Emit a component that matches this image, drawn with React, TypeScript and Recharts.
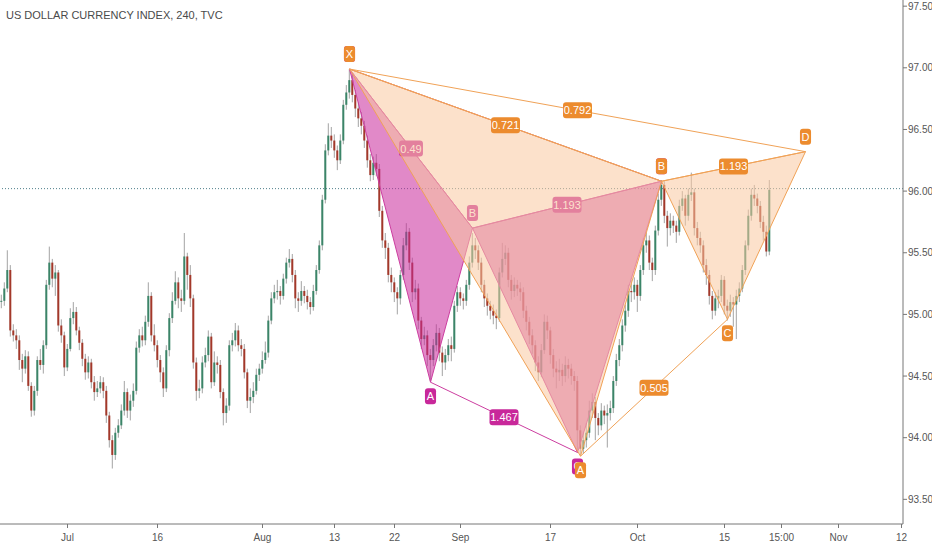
import { ComposedChart, Bar, Scatter, XAxis, YAxis, ReferenceLine } from "recharts";

const FONT = "'Liberation Sans Narrow', 'Liberation Sans', Arial, sans-serif";

// 240-minute candles, one slot per candle; open = previous close
const closes = [
  95.11, 95.21, 95.36, 94.87, 94.83, 94.79, 94.63, 94.56, 94.66, 94.42,
  94.22, 94.38, 94.63, 94.59, 94.75, 95.24, 95.42, 95.29, 95.34, 94.91,
  94.83, 94.57, 94.72, 94.97, 95.02, 94.87, 94.77, 94.64, 94.53, 94.61,
  94.45, 94.37, 94.40, 94.45, 94.38, 94.18, 93.98, 93.86, 94.04, 94.10,
  94.22, 94.37, 94.22, 94.30, 94.38, 94.73, 94.83, 94.79, 94.94, 95.15,
  94.83, 94.75, 94.63, 94.53, 94.40, 94.71, 94.97, 95.11, 95.26, 95.13,
  95.11, 95.47, 95.32, 95.13, 94.61, 94.38, 94.40, 94.61, 94.67, 94.82,
  94.45, 94.61, 94.59, 94.37, 94.20, 94.26, 94.75, 94.79, 94.87, 94.75,
  94.72, 94.53, 94.30, 94.33, 94.38, 94.51, 94.56, 94.63, 94.69, 94.95,
  95.13, 95.18, 95.19, 95.15, 95.29, 95.42, 95.45, 95.32, 95.13, 95.11,
  95.19, 95.15, 95.10, 95.06, 95.19, 95.36, 95.56, 95.93, 96.33, 96.45,
  96.41, 96.33, 96.25, 96.41, 96.70, 96.80, 96.90, 96.78, 96.67, 96.59,
  96.53, 96.41, 96.25, 96.13, 96.23, 96.18, 95.84, 95.60, 95.54, 95.32,
  95.26, 95.18, 95.13, 95.32, 95.56, 95.67, 95.42, 95.18, 95.21, 94.95,
  94.80, 94.83, 94.67, 94.63, 94.75, 94.85, 94.69, 94.61, 94.67, 94.75,
  94.72, 95.07, 95.18, 95.13, 95.11, 95.24, 95.42, 95.56, 95.52, 95.42,
  95.24, 95.13, 95.07, 95.03, 94.99, 94.97, 95.34, 95.45, 95.50, 95.28,
  95.19, 95.24, 95.21, 95.18, 95.03, 94.94, 94.83, 94.75, 94.61, 94.53,
  94.71, 94.94, 94.87, 94.67, 94.56, 94.53, 94.55, 94.50, 94.59, 94.56,
  94.50, 94.46, 94.06, 93.91, 93.98, 94.04, 94.22, 94.29, 94.16, 94.10,
  94.22, 94.18, 94.20, 94.24, 94.46, 94.63, 94.75, 94.91, 95.03, 95.19,
  95.18, 95.24, 95.15, 95.36, 95.56, 95.60, 95.42, 95.36, 95.68, 95.93,
  96.05, 95.80, 95.70, 95.76, 95.72, 95.67, 95.88, 95.94, 95.80, 95.97,
  95.99, 95.70, 95.62, 95.56, 95.40, 95.32, 95.15, 95.03, 95.13, 95.15,
  95.28, 95.07, 95.03, 95.10, 95.08, 95.15, 95.21, 95.36, 95.56, 95.80,
  95.97, 95.94, 95.88, 95.75, 95.67, 95.51, 96.01,
];

const highs = [
  95.16, 95.26, 95.52, 95.40, 94.92, 94.88, 94.83, 94.68, 94.71, 94.70,
  94.45, 94.42, 94.66, 94.72, 94.79, 95.28, 95.55, 95.45, 95.40, 95.36,
  94.96, 94.86, 94.76, 95.05, 95.10, 95.06, 94.90, 94.80, 94.68, 94.66,
  94.64, 94.50, 94.46, 94.50, 94.49, 94.42, 94.21, 94.02, 94.08, 94.15,
  94.27, 94.46, 94.40, 94.35, 94.44, 94.78, 94.88, 94.90, 94.99, 95.26,
  95.18, 94.92, 94.79, 94.67, 94.57, 94.75, 95.01, 95.18, 95.35, 95.30,
  95.20, 95.66, 95.50, 95.40, 95.16, 94.65, 94.47, 94.66, 94.73, 94.87,
  94.85, 94.70, 94.66, 94.63, 94.40, 94.32, 94.79, 94.85, 94.93, 94.91,
  94.80, 94.76, 94.56, 94.40, 94.45, 94.56, 94.60, 94.70, 94.78, 94.99,
  95.18, 95.24, 95.28, 95.23, 95.33, 95.46, 95.53, 95.49, 95.36, 95.18,
  95.27, 95.23, 95.20, 95.14, 95.24, 95.40, 95.60, 95.97, 96.38, 96.55,
  96.52, 96.46, 96.37, 96.46, 96.74, 96.86, 96.99, 96.95, 96.82, 96.72,
  96.64, 96.57, 96.45, 96.30, 96.28, 96.30, 96.22, 95.88, 95.66, 95.58,
  95.38, 95.30, 95.22, 95.36, 95.62, 95.74, 95.70, 95.46, 95.28, 95.25,
  94.98, 94.90, 94.87, 94.72, 94.80, 94.92, 94.89, 94.74, 94.72, 94.80,
  94.82, 95.11, 95.23, 95.22, 95.17, 95.28, 95.47, 95.66, 95.62, 95.56,
  95.46, 95.28, 95.17, 95.11, 95.08, 95.04, 95.38, 95.58, 95.56, 95.54,
  95.32, 95.30, 95.28, 95.26, 95.22, 95.07, 94.98, 94.88, 94.79, 94.66,
  94.76, 95.00, 94.99, 94.90, 94.72, 94.62, 94.64, 94.60, 94.66, 94.64,
  94.60, 94.54, 94.50, 94.10, 94.05, 94.12, 94.30, 94.36, 94.33, 94.20,
  94.28, 94.26, 94.27, 94.30, 94.50, 94.68, 94.80, 94.96, 95.08, 95.24,
  95.28, 95.30, 95.28, 95.40, 95.62, 95.66, 95.64, 95.46, 95.72, 95.98,
  96.09, 96.08, 95.84, 95.82, 95.80, 95.76, 95.93, 96.00, 95.97, 96.02,
  96.15, 96.02, 95.75, 95.67, 95.60, 95.45, 95.36, 95.19, 95.18, 95.20,
  95.32, 95.31, 95.12, 95.16, 95.14, 95.20, 95.26, 95.40, 95.60, 95.85,
  96.02, 96.05, 95.98, 95.92, 95.80, 95.72, 96.09,
];

const lows = [
  95.05, 95.07, 95.18, 94.82, 94.78, 94.72, 94.55, 94.45, 94.52, 94.38,
  94.17, 94.18, 94.34, 94.55, 94.52, 94.72, 95.20, 95.22, 95.15, 94.86,
  94.77, 94.50, 94.54, 94.70, 94.92, 94.83, 94.71, 94.58, 94.47, 94.48,
  94.40, 94.30, 94.33, 94.36, 94.32, 94.12, 93.92, 93.75, 93.82, 94.00,
  94.07, 94.18, 94.16, 94.14, 94.25, 94.35, 94.69, 94.74, 94.75, 94.90,
  94.78, 94.70, 94.57, 94.45, 94.33, 94.37, 94.66, 94.93, 95.08, 95.05,
  95.02, 95.08, 95.20, 95.06, 94.56, 94.30, 94.32, 94.36, 94.57, 94.62,
  94.40, 94.42, 94.52, 94.32, 94.10, 94.12, 94.22, 94.70, 94.74, 94.70,
  94.66, 94.48, 94.24, 94.20, 94.28, 94.35, 94.46, 94.52, 94.60, 94.65,
  94.92, 95.09, 95.12, 95.08, 95.12, 95.25, 95.38, 95.26, 95.05, 95.02,
  95.07, 95.09, 95.04, 95.00, 95.03, 95.16, 95.33, 95.52, 95.90, 96.29,
  96.35, 96.27, 96.17, 96.22, 96.38, 96.66, 96.75, 96.72, 96.60, 96.52,
  96.46, 96.35, 96.19, 96.08, 96.09, 96.12, 95.79, 95.54, 95.45, 95.26,
  95.18, 95.10, 95.00, 95.08, 95.28, 95.52, 95.36, 95.10, 95.12, 94.88,
  94.72, 94.75, 94.58, 94.46, 94.58, 94.70, 94.62, 94.50, 94.55, 94.62,
  94.62, 94.69, 95.02, 95.07, 95.04, 95.07, 95.20, 95.38, 95.45, 95.36,
  95.18, 95.06, 94.99, 94.96, 94.92, 94.88, 94.94, 95.30, 95.40, 95.22,
  95.12, 95.14, 95.15, 95.11, 94.97, 94.87, 94.76, 94.68, 94.54, 94.46,
  94.49, 94.68, 94.80, 94.60, 94.49, 94.40, 94.46, 94.42, 94.45, 94.48,
  94.43, 94.38, 93.90, 93.86, 93.87, 93.92, 94.00, 94.16, 93.98, 94.02,
  94.06, 94.11, 93.92, 94.14, 94.20, 94.42, 94.58, 94.70, 94.86, 94.98,
  95.10, 95.12, 95.02, 95.11, 95.32, 95.50, 95.36, 95.27, 95.32, 95.64,
  95.88, 95.74, 95.55, 95.64, 95.66, 95.58, 95.64, 95.84, 95.72, 95.76,
  95.92, 95.64, 95.56, 95.50, 95.34, 95.24, 95.08, 94.96, 94.99, 95.05,
  95.10, 95.00, 94.95, 94.98, 94.90, 94.80, 95.10, 95.18, 95.32, 95.52,
  95.76, 95.88, 95.82, 95.70, 95.60, 95.47, 95.48,
];

// empty slots continue the time axis to the right edge
const TOTAL_SLOTS = 301;

const tickSlots = [22, 52, 87, 111, 131, 153, 183, 212, 241, 260, 279, 300];
const tickLabels = ["Jul", "16", "Aug", "13", "22", "Sep", "17", "Oct", "15", "15:00", "Nov", "12"];
const priceTicks = [93.5, 94, 94.5, 95, 95.5, 96, 96.5, 97, 97.5];
const lastPrice = 96.02;

// harmonic patterns: points X, A, B, C, D
const pointNames = ["X", "A", "B", "C", "D"];
const p1Slots = [116, 143, 157, 192, 220];
const p1Prices = [96.99, 94.45, 95.7, 93.88, 96.08];
const p1Ratios = ["0.49", "1.467", "1.193", ""]; // XB, AC, BD, XD
const p2Slots = [116, 193, 220, 242, 268];
const p2Prices = [96.99, 93.85, 96.08, 94.96, 96.32];
const p2Ratios = ["0.721", "0.505", "1.193", "0.792"];

const p1Style = { fill: "#c8289a", fillOpacity: 0.55, line: "#cc3ea0", label: "#c8289a" };
const p2Style = { fill: "#fac8a0", fillOpacity: 0.55, line: "#f0a257", label: "#ec8b2e" };

const rows = Array.from({ length: TOTAL_SLOTS }, (_, slot) => {
  const has = slot < closes.length;
  const i1 = p1Slots.indexOf(slot);
  const i2 = p2Slots.indexOf(slot);
  return {
    slot,
    open: has ? closes[slot > 0 ? slot - 1 : 0] : null,
    close: has ? closes[slot] : null,
    high: has ? highs[slot] : null,
    low: has ? lows[slot] : null,
    range: has ? [lows[slot], highs[slot]] : null,
    p1: i1 >= 0 ? p1Prices[i1] : null,
    p2: i2 >= 0 ? p2Prices[i2] : null,
  };
});

function Candle(props: any) {
  const { x, y, width, height, payload } = props;
  if (!payload || payload.high == null || !Number.isFinite(y)) return <g />;
  const { open, close, high, low } = payload;
  const span = high - low || 1;
  const py = (v: number) => y + ((high - v) / span) * height;
  const cx = x + width / 2;
  const up = close >= open;
  const top = py(Math.max(open, close));
  const bot = py(Math.min(open, close));
  return (
    <g>
      <line x1={cx} x2={cx} y1={y} y2={y + height} stroke="#a3a3a3" strokeWidth={1} />
      <rect x={cx - 1} y={top} width={2} height={Math.max(1, bot - top)} fill={up ? "#3b8568" : "#a3382a"} />
    </g>
  );
}

const textWidth = (s: string) => {
  let w = 0;
  for (const ch of s) w += ch === "." ? 2.6 : 5.1;
  return w;
};

function Badge({ cx, cy, text, fill }: { cx: number; cy: number; text: string; fill: string }) {
  const w = textWidth(text) + 6;
  return (
    <g>
      <rect x={cx - w / 2} y={cy - 8} width={w} height={16} rx={3} fill={fill} />
      <text x={cx} y={cy + 4} textAnchor="middle" fill="#fff" fontSize={11} fontFamily={FONT}>
        {text}
      </text>
    </g>
  );
}

function PatternShape({ points, style, ratios }: any) {
  const pts = (points || []).filter(
    (p: any) => p && Number.isFinite(p.x) && Number.isFinite(p.y) && p.y >= 0 && p.y <= 530
  );
  if (pts.length < 5) return <g />;
  const [X, A, B, C, D] = pts;
  const poly = (ps: any[]) => ps.map((p) => `${p.x},${p.y}`).join(" ");
  const segs = [[X, B], [A, C], [B, D], [X, D]];
  const above = [true, false, true, false, true];
  return (
    <g>
      <polygon points={poly([X, A, B])} fill={style.fill} fillOpacity={style.fillOpacity} stroke={style.line} strokeWidth={1} />
      <polygon points={poly([B, C, D])} fill={style.fill} fillOpacity={style.fillOpacity} stroke={style.line} strokeWidth={1} />
      {segs.map(([p, q], k) => (
        <line key={`l${k}`} x1={p.x} y1={p.y} x2={q.x} y2={q.y} stroke={style.line} strokeWidth={1} />
      ))}
      {segs.map(([p, q], k) =>
        ratios[k] ? (
          <Badge key={`r${k}`} cx={(p.x + q.x) / 2} cy={(p.y + q.y) / 2} text={ratios[k]} fill={style.label} />
        ) : null
      )}
      {pts.map((p: any, k: number) => (
        <Badge key={`v${k}`} cx={p.x} cy={p.y + (above[k] ? -15 : 14)} text={pointNames[k]} fill={style.label} />
      ))}
    </g>
  );
}

const noDot = () => <g />;

export default function App() {
  return (
    <div style={{ position: "absolute", left: 0, top: 0, width: 932, height: 550, background: "#fff" }}>
      <ComposedChart width={932} height={550} data={rows} margin={{ top: 0, right: 0, bottom: 0, left: 0 }}>
        <XAxis
          dataKey="slot"
          type="category"
          ticks={tickSlots}
          interval={0}
          tickFormatter={(v: number) => tickLabels[tickSlots.indexOf(v)] ?? ""}
          height={26}
          tickSize={4}
          tickMargin={6}
          axisLine={{ stroke: "#777" }}
          tickLine={{ stroke: "#777" }}
          tick={{ fill: "#555", fontSize: 10, fontFamily: FONT }}
        />
        <YAxis
          orientation="right"
          type="number"
          domain={[93.3, 97.55]}
          allowDataOverflow
          ticks={priceTicks}
          interval={0}
          width={29}
          tickSize={4}
          tickMargin={1}
          tickFormatter={(v: number) => v.toFixed(2)}
          axisLine={{ stroke: "#777" }}
          tickLine={{ stroke: "#777" }}
          tick={{ fill: "#555", fontSize: 10, fontFamily: FONT }}
        />
        <Bar dataKey="range" shape={Candle} isAnimationActive={false} barCategoryGap="10%" />
        <ReferenceLine y={lastPrice} stroke="#4f7f8b" strokeDasharray="1 2" />
        <Scatter
          dataKey="p1"
          isAnimationActive={false}
          shape={noDot}
          legendType="none"
          line={(lp: any) => <PatternShape points={lp.points} style={p1Style} ratios={p1Ratios} />}
        />
        <Scatter
          dataKey="p2"
          isAnimationActive={false}
          shape={noDot}
          legendType="none"
          line={(lp: any) => <PatternShape points={lp.points} style={p2Style} ratios={p2Ratios} />}
        />
      </ComposedChart>
      <div
        style={{
          position: "absolute",
          left: 6,
          top: 9,
          fontFamily: FONT,
          fontSize: 11,
          color: "#4a4a4a",
          whiteSpace: "nowrap",
        }}
      >
        US DOLLAR CURRENCY INDEX, 240, TVC
      </div>
    </div>
  );
}
